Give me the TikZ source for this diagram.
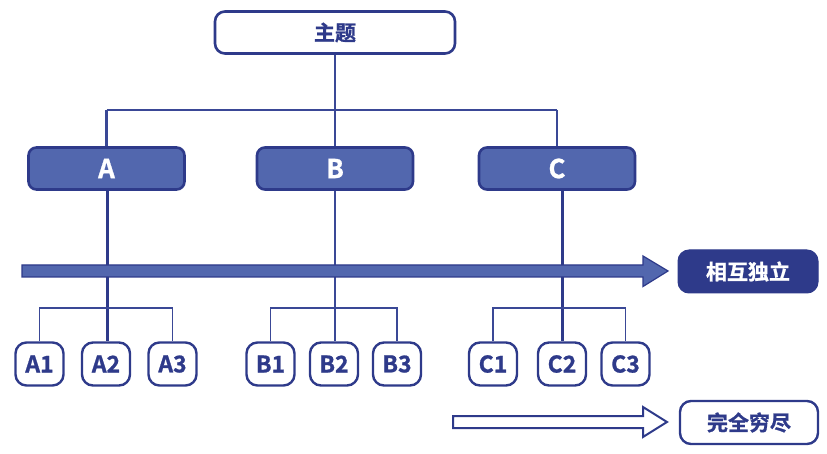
\documentclass[tikz,border=0pt]{standalone}
\usepackage{fontspec}
\setmainfont{Noto Sans CJK SC Bold}[FakeBold=1]
\definecolor{navy}{HTML}{2E3A8A}
\definecolor{mid}{HTML}{5267AE}
\definecolor{linec}{HTML}{3A4896}
\tikzset{
  topbox/.style={draw=navy,line width=2.6pt,fill=white,rounded corners=10pt,minimum width=240pt,minimum height=42pt,inner sep=0pt,text=navy,font=\fontsize{21}{21}\selectfont},
  midbox/.style={draw=navy,line width=2.6pt,fill=mid,rounded corners=8pt,minimum width=156pt,minimum height=42pt,inner sep=0pt,text=white,font=\fontsize{26}{26}\selectfont},
  leafbox/.style={draw=navy,line width=2.4pt,fill=white,rounded corners=11pt,minimum width=48pt,minimum height=43pt,inner sep=0pt,text=navy,font=\fontsize{23}{23}\selectfont},
  darkbox/.style={draw=navy,line width=1pt,fill=navy,rounded corners=11pt,minimum width=140pt,minimum height=43pt,inner sep=0pt,text=white,font=\fontsize{21}{21}\selectfont},
  labbox/.style={draw=navy,line width=2.4pt,fill=white,rounded corners=11pt,minimum width=138pt,minimum height=43pt,inner sep=0pt,text=navy,font=\fontsize{21}{21}\selectfont},
  thinline/.style={draw=linec,line width=1.6pt},
  medline/.style={draw=linec,line width=2.2pt},
  thickline/.style={draw=navy,line width=3pt},
}
\begin{document}
\begin{tikzpicture}[x=1pt,y=-1pt]
\useasboundingbox (0,0) rectangle (827,454);
% coordinates for junctions
\coordinate (jt) at (335,110);
\coordinate (ja) at (107,308);
\coordinate (jb) at (335,308);
\coordinate (jc) at (562,308);
% nodes
\node[topbox] (top) at (335,32.5) {主题};
\node[midbox] (A) at (106.5,168.5) {A};
\node[midbox] (B) at (335,168.5) {B};
\node[midbox] (C) at (557,168.5) {C};
\node[leafbox] (A1) at (39.5,364) {A1};
\node[leafbox] (A2) at (106,364) {A2};
\node[leafbox] (A3) at (172.5,364) {A3};
\node[leafbox] (B1) at (270.5,364) {B1};
\node[leafbox] (B2) at (334,364) {B2};
\node[leafbox] (B3) at (397,364) {B3};
\node[leafbox] (C1) at (493,364) {C1};
\node[leafbox] (C2) at (562,364) {C2};
\node[leafbox] (C3) at (625.5,364) {C3};
\node[darkbox] (mi) at (748,271.5) {相互独立};
\node[labbox] (ce) at (749,422.5) {完全穷尽};
% top connectors
\draw[thinline] (top.south) -- (jt);
\draw[medline] (jt -| A.north) -- (jt -| C.north);
\draw[medline] (jt -| A.north) -- (A.north);
\draw[medline] (jt) -- (B.north);
\draw[medline] (jt -| C.north) -- (C.north);
% middle connectors
\draw[thickline] (A.south -| ja) -- (A2.north -| ja);
\draw[medline] (B.south -| jb) -- (B2.north -| jb);
\draw[thickline] (C.south -| jc) -- (C2.north -| jc);
% leaf brackets
\draw[thinline] (A1.north) -- (A1.north |- ja) -- (A3.north |- ja) -- (A3.north);
\draw[thinline] (B1.north) -- (B1.north |- jb) -- (B3.north |- jb) -- (B3.north);
\draw[thinline] (C1.north) -- (C1.north |- jc) -- (C3.north |- jc) -- (C3.north);
% big arrow (drawn on top of lines)
\draw[draw=navy,line width=1.2pt,fill=mid,line join=miter]
  (22,265) -- (643,265) -- (643,256) -- (668,271) -- (643,286.5) -- (643,277) -- (22,277) -- cycle;
% hollow arrow
\draw[draw=navy,line width=2pt,fill=white,line join=miter]
  (453,416) -- (643,416) -- (643,407) -- (667,422) -- (643,437) -- (643,428) -- (453,428) -- cycle;
\end{tikzpicture}
\end{document}
